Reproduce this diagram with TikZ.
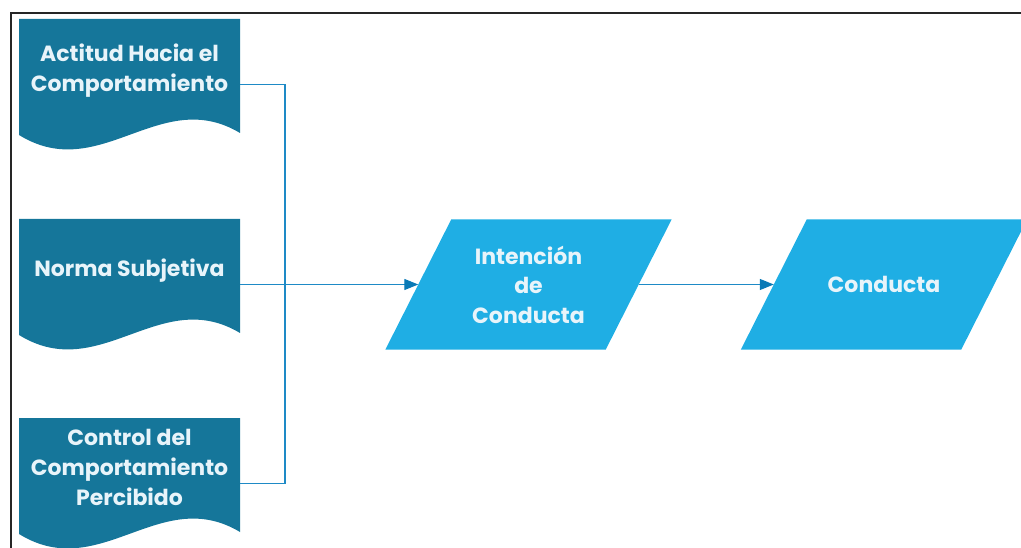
\documentclass[tikz,border=0pt]{standalone}
\usepackage{fontspec}
\setmainfont{Poppins}
\usepackage{xcolor}
\usepackage{tikz}
\usetikzlibrary{positioning,backgrounds,arrows.meta}

\definecolor{docteal}{RGB}{21,118,154}
\definecolor{parblue}{RGB}{31,174,228}
\definecolor{linkblue}{RGB}{30,138,198}
\definecolor{tipblue}{RGB}{10,122,182}
\definecolor{labelwhite}{RGB}{232,244,250}

\tikzset{
  docbox/.style={minimum width=221pt,minimum height=131pt,inner sep=0pt,
    align=center,text depth=33pt,text=labelwhite,
    font=\fontsize{22}{30}\selectfont\bfseries,
    path picture={\fill[docteal] (path picture bounding box.north west)
      -- (path picture bounding box.north east)
      -- ([yshift=17pt]path picture bounding box.south east)
      .. controls +(-80pt,48pt) and +(81pt,-50pt)
      .. ([yshift=15pt]path picture bounding box.south west) -- cycle;}},
  databox/.style={minimum width=220pt,minimum height=130pt,inner sep=0pt,
    align=center,text=labelwhite,
    font=\fontsize{22}{29.5}\selectfont\bfseries},
  link/.style={draw=linkblue,line width=1.3pt},
  >={Triangle[length=14pt,width=11pt,color=tipblue]}
}

\begin{document}
\begin{tikzpicture}[x=1pt,y=-1pt,every node/.style={on grid}]
    \useasboundingbox (0,0) rectangle (1021,548);
    \clip (0,0) rectangle (1021,548);
    \draw[line width=2pt,black!85] (11,13) rectangle (1060,580);
    % inputs
    \node[docbox] (actitud) at (129.5,84.5) {Actitud Hacia el\\Comportamiento};
    \node[docbox,below=200pt of actitud] (norma) {Norma Subjetiva};
    \node[docbox,below=199pt of norma] (control) {Control del\\Comportamiento\\Percibido};
    % intention and behaviour
    \node[databox,right=399pt of norma] (intencion) {Intención\\de\\Conducta};
    \node[databox,right=355.5pt of intencion] (conducta) {Conducta};
    \begin{pgfonlayer}{background}
      \foreach \n in {intencion,conducta}
        \fill[parblue] ([xshift=-33pt]\n.south west) -- ([xshift=-33pt]\n.south east)
          -- ([xshift=33pt]\n.north east) -- ([xshift=33pt]\n.north west) -- cycle;
    \end{pgfonlayer}
    \coordinate (join) at (285,284.5);
    \draw[link] (actitud.east) -| (join) |- (control.east);
    \draw[link,->] (norma.east) -- (intencion.west);
    \draw[link,->] (intencion.east) -- (conducta.west);
\end{tikzpicture}
\end{document}
